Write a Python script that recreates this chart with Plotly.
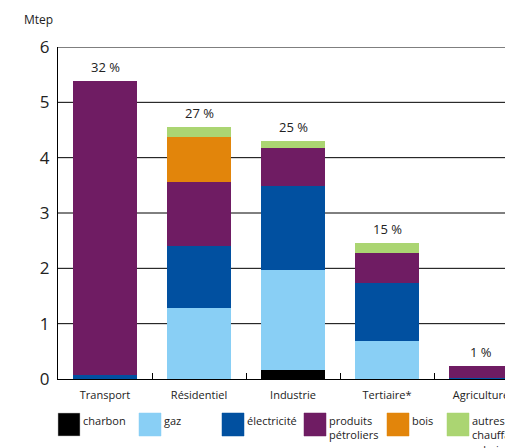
import plotly.graph_objects as go

categories = ["Transport", "Résidentiel", "Industrie", "Tertiaire*", "Agriculture"]
percent_labels = ["32 %", "27 %", "25 %", "15 %", "1 %"]

charbon = [0.0, 0.0, 0.16, 0.0, 0.0]
gaz = [0.0, 1.28, 1.81, 0.69, 0.0]
electricite = [0.07, 1.13, 1.52, 1.05, 0.02]
produits_petroliers = [5.32, 1.15, 0.68, 0.53, 0.21]
bois = [0.0, 0.82, 0.0, 0.0, 0.0]
autres = [0.0, 0.18, 0.13, 0.18, 0.0]

series_names = ["charbon", "gaz", "électricité", "produits<br>pétroliers", "bois",
                "autres dont<br>chauffage<br>urbain"]
series_values = [charbon, gaz, electricite, produits_petroliers, bois, autres]
series_colors = ["#000000", "#89CFF5", "#0150A0", "#6F1C63", "#E2850B", "#ABD572"]

y_ticks = [0, 1, 2, 3, 4, 5, 6]

FONT = "Open Sans, DejaVu Sans, sans-serif"

PAGE_OFF = 8
PLOT_L, PLOT_R, PLOT_T, PLOT_B = 58, 513, 47, 379
PW, PH = PLOT_R - PLOT_L, PLOT_B - PLOT_T
X_RANGE = [-0.5, 4.34]
BAR_W = 0.68


def px(x):
    return (x - PLOT_L) / PW


def py(y):
    return (PLOT_B - y) / PH


fig = go.Figure()
for name, vals, col in zip(series_names, series_values, series_colors):
    fig.add_trace(go.Bar(x=categories, y=vals, name=name, marker_color=col,
                         marker_line_width=0, width=BAR_W, showlegend=False))

totals = [sum(v[i] for v in series_values) for i in range(len(categories))]

# horizontal gridlines, interrupted where a bar stands in front of them
for t in y_ticks[1:]:
    start = X_RANGE[0]
    for i, tot in enumerate(totals):
        if tot >= t:
            fig.add_shape(type="line", xref="x", yref="y", x0=start, x1=i - BAR_W / 2,
                          y0=t, y1=t, line=dict(color="#000000", width=1), layer="above")
            start = i + BAR_W / 2
    fig.add_shape(type="line", xref="x", yref="y", x0=start, x1=X_RANGE[1],
                  y0=t, y1=t, line=dict(color="#000000", width=1), layer="above")

for cat, tot, lab in zip(categories, totals, percent_labels):
    fig.add_annotation(x=cat, y=tot, text=lab, showarrow=False, yshift=14,
                       xanchor="center", yanchor="middle",
                       font=dict(size=13, color="#222", family=FONT))

fig.add_annotation(x=px(38), y=py(19), xref="paper", yref="paper", text="Mtep",
                   showarrow=False, xanchor="center", yanchor="middle",
                   font=dict(size=12, color="#222", family=FONT))

leg_x = [58, 139, 222, 304, 387, 447]
for lx, name, col in zip(leg_x, series_names, series_colors):
    fig.add_shape(type="rect", xref="paper", yref="paper",
                  x0=px(lx), x1=px(lx + 22), y0=py(436), y1=py(413),
                  fillcolor=col,
                  line=dict(width=0.5, color="#bbbbbb" if col == "#000000" else col))
    fig.add_annotation(xref="paper", yref="paper", x=px(lx + 23), y=py(411),
                       text=name, showarrow=False, xanchor="left", yanchor="top",
                       align="left", font=dict(size=11, color="#222", family=FONT))

fig.update_layout(
    width=513 - PAGE_OFF, height=448 - PAGE_OFF,
    margin=dict(l=PLOT_L - PAGE_OFF, r=0, t=PLOT_T - PAGE_OFF, b=448 - PLOT_B),
    paper_bgcolor="white", plot_bgcolor="white",
    barmode="stack",
    font=dict(family=FONT, color="#222"),
    xaxis=dict(range=X_RANGE, showline=True, linecolor="black", linewidth=1,
               ticks="inside", tickson="boundaries", ticklen=6, tickcolor="black",
               tickfont=dict(size=11, family=FONT), ticklabelstandoff=6,
               showgrid=False, fixedrange=True),
    yaxis=dict(range=[0, 6], tickvals=y_ticks, showline=True, linecolor="black",
               linewidth=1, showgrid=False,
               tickfont=dict(size=17, family=FONT), ticks="", ticklabelstandoff=4,
               zeroline=False),
)

fig.write_html("out.html")
